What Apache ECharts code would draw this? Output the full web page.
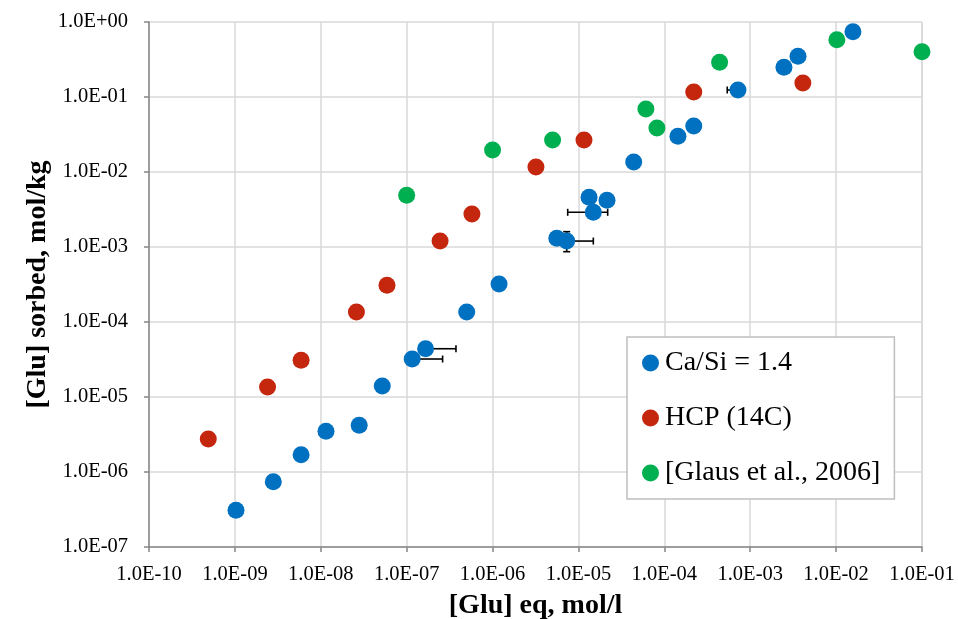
<!DOCTYPE html>
<html>
<head>
<meta charset="utf-8">
<script src="https://cdn.jsdelivr.net/npm/echarts@6/dist/echarts.min.js"></script>
<style>
html,body{margin:0;padding:0;background:#fff;}
#chart{width:958px;height:619px;}
</style>
</head>
<body>
<div id="chart"></div>
<script>
// Ca/Si = 1.4 : [Glu] eq (mol/l), [Glu] sorbed (mol/kg)
const blueX = [1.03e-9, 2.8e-9, 5.9e-9, 1.15e-8, 2.8e-8, 5.2e-8, 1.16e-7, 1.66e-7, 5.0e-7, 1.19e-6, 5.6e-6, 7.3e-6, 1.33e-5, 1.49e-5, 2.15e-5, 4.4e-5, 1.44e-4, 2.2e-4, 7.2e-4, 2.47e-3, 3.6e-3, 1.57e-2];
const blueY = [3.1e-7, 7.4e-7, 1.7e-6, 3.5e-6, 4.2e-6, 1.4e-5, 3.21e-5, 4.4e-5, 1.36e-4, 3.2e-4, 1.31e-3, 1.2e-3, 4.6e-3, 2.9e-3, 4.2e-3, 1.36e-2, 3.0e-2, 4.1e-2, 1.24e-1, 0.25, 0.35, 0.74];
// HCP (14C)
const redX = [4.9e-10, 2.4e-9, 5.9e-9, 2.6e-8, 5.9e-8, 2.45e-7, 5.75e-7, 3.2e-6, 1.16e-5, 2.2e-4, 4.1e-3];
const redY = [2.75e-6, 1.36e-5, 3.1e-5, 1.36e-4, 3.1e-4, 1.2e-3, 2.75e-3, 1.17e-2, 2.67e-2, 0.117, 0.154];
// [Glaus et al., 2006]
const greenX = [1.0e-7, 1.0e-6, 5.0e-6, 6.1e-5, 8.2e-5, 4.4e-4, 1.02e-2, 1.0e-1];
const greenY = [4.9e-3, 1.96e-2, 2.67e-2, 6.9e-2, 3.86e-2, 0.29, 0.58, 0.40];
// Error bars (Ca/Si = 1.4): x, y, xLow, xHigh, yLow, yHigh
const errBars = [
  [1.16e-7, 3.21e-5, 1.16e-7, 2.62e-7, 3.21e-5, 3.21e-5],
  [1.66e-7, 4.4e-5, 1.66e-7, 3.75e-7, 4.4e-5, 4.4e-5],
  [7.3e-6, 1.2e-3, 7.3e-6, 1.49e-5, 8.66e-4, 1.6e-3],
  [1.49e-5, 2.9e-3, 7.5e-6, 2.19e-5, 2.9e-3, 2.9e-3],
  [7.2e-4, 1.24e-1, 5.4e-4, 7.2e-4, 1.24e-1, 1.24e-1]
];
const seriesNames = ['Ca/Si = 1.4', 'HCP (14C)', '[Glaus et al., 2006]'];
const xTitle = '[Glu] eq, mol/l';
const yTitle = '[Glu] sorbed, mol/kg';

function zip(a, b) { return a.map((v, i) => [v, b[i]]); }
function fmt(v) {
  const e = Math.round(Math.log10(v));
  return '1.0E' + (e < 0 ? '-' : '+') + String(Math.abs(e)).padStart(2, '0');
}

const serif = '"Liberation Serif", "DejaVu Serif", serif';
const chart = echarts.init(document.getElementById('chart'));
const axisCommon = {
  type: 'log',
  logBase: 10,
  axisLine: { show: true, onZero: false, lineStyle: { color: '#868686', width: 1.5 } },
  axisTick: { show: true, inside: false, length: 5, lineStyle: { color: '#868686', width: 1.5 } },
  splitLine: { show: true, lineStyle: { color: '#d9d9d9', width: 1.5 } },
  minorTick: { show: false },
  axisLabel: { color: '#000', fontFamily: serif, fontSize: 20.5, formatter: fmt },
  nameTextStyle: { color: '#000', fontFamily: serif, fontSize: 28, fontWeight: 'bold' },
  nameLocation: 'middle',
  nameMoveOverlap: false
};

chart.setOption({
  animation: false,
  backgroundColor: '#fff',
  grid: { left: 149, right: 36, top: 22, bottom: 72, containLabel: false, outerBoundsMode: 'none' },
  xAxis: Object.assign({}, axisCommon, {
    min: 1e-10, max: 1e-1, splitNumber: 9,
    name: xTitle, nameGap: 45,
    axisLabel: Object.assign({}, axisCommon.axisLabel, { margin: 17 })
  }),
  yAxis: Object.assign({}, axisCommon, {
    min: 1e-7, max: 1, splitNumber: 7,
    name: yTitle, nameGap: 97, nameRotate: 90,
    axisLabel: Object.assign({}, axisCommon.axisLabel, { margin: 21 })
  }),
  legend: {
    data: seriesNames,
    orient: 'vertical',
    left: 627, top: 337,
    backgroundColor: '#fff',
    borderColor: '#bfbfbf', borderWidth: 1.5, borderRadius: 0,
    padding: [11, 14, 11, 15],
    itemGap: 25, itemWidth: 17, itemHeight: 17,
    icon: 'circle',
    textStyle: { color: '#000', fontFamily: serif, fontSize: 28, lineHeight: 30, padding: [0, 0, 0, 1] }
  },
  series: [
    {
      type: 'custom', name: 'err', z: 1, silent: true,
      data: errBars,
      encode: { x: 0, y: 1 },
      clip: false,
      renderItem: function (params, api) {
        const x = api.value(0), y = api.value(1);
        const xl = api.value(2), xh = api.value(3), yl = api.value(4), yh = api.value(5);
        const c = api.coord([x, y]);
        const pL = api.coord([xl, y]), pH = api.coord([xh, y]);
        const pB = api.coord([x, yl]), pT = api.coord([x, yh]);
        const cap = 3.5;
        const st = { stroke: '#000', lineWidth: 1.6 };
        const ch = [];
        if (Math.abs(pH[0] - pL[0]) > 0.5) {
          ch.push({ type: 'line', shape: { x1: pL[0], y1: c[1], x2: pH[0], y2: c[1] }, style: st });
          if (Math.abs(pL[0] - c[0]) > 0.5) ch.push({ type: 'line', shape: { x1: pL[0], y1: c[1] - cap, x2: pL[0], y2: c[1] + cap }, style: st });
          if (Math.abs(pH[0] - c[0]) > 0.5) ch.push({ type: 'line', shape: { x1: pH[0], y1: c[1] - cap, x2: pH[0], y2: c[1] + cap }, style: st });
        }
        if (Math.abs(pB[1] - pT[1]) > 0.5) {
          ch.push({ type: 'line', shape: { x1: c[0], y1: pB[1], x2: c[0], y2: pT[1] }, style: st });
          ch.push({ type: 'line', shape: { x1: c[0] - cap, y1: pB[1], x2: c[0] + cap, y2: pB[1] }, style: st });
          ch.push({ type: 'line', shape: { x1: c[0] - cap, y1: pT[1], x2: c[0] + cap, y2: pT[1] }, style: st });
        }
        return { type: 'group', children: ch };
      }
    },
    { type: 'scatter', name: seriesNames[0], data: zip(blueX, blueY), symbol: 'circle', symbolSize: 17, clip: false, z: 3, itemStyle: { color: '#0070c0', opacity: 1 } },
    { type: 'scatter', name: seriesNames[1], data: zip(redX, redY), symbol: 'circle', symbolSize: 17, clip: false, z: 3, itemStyle: { color: '#c4260e', opacity: 1 } },
    { type: 'scatter', name: seriesNames[2], data: zip(greenX, greenY), symbol: 'circle', symbolSize: 17, clip: false, z: 3, itemStyle: { color: '#00b050', opacity: 1 } }
  ]
});
</script>
</body>
</html>
